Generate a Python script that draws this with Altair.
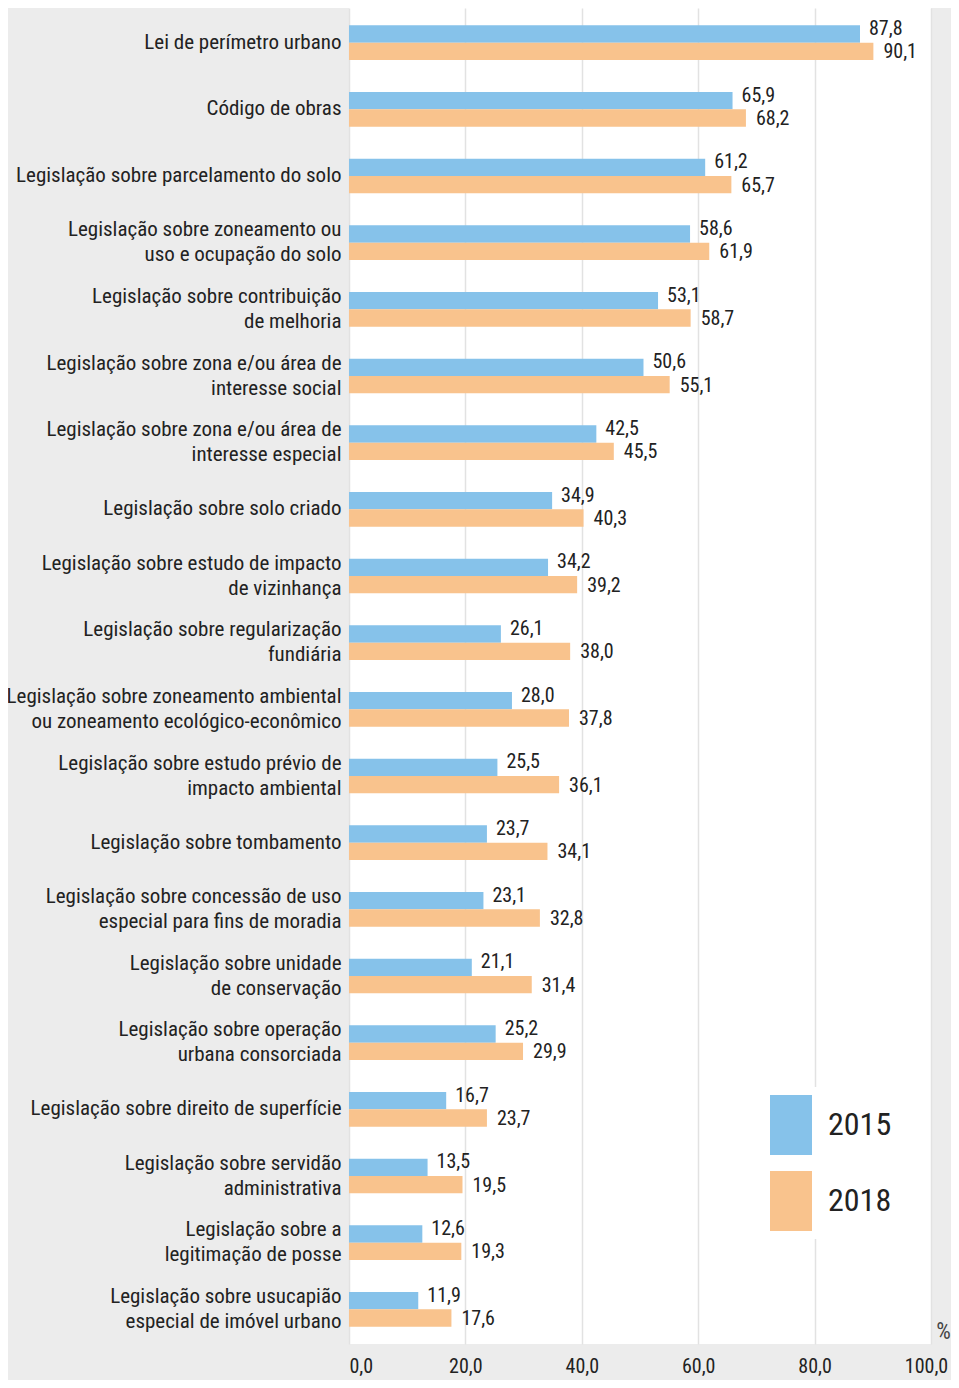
import altair as alt
import pandas as pd

categories = [
    "Lei de perímetro urbano",
    "Código de obras",
    "Legislação sobre parcelamento do solo",
    "Legislação sobre zoneamento ou\nuso e ocupação do solo",
    "Legislação sobre contribuição\nde melhoria",
    "Legislação sobre zona e/ou área de\ninteresse social",
    "Legislação sobre zona e/ou área de\ninteresse especial",
    "Legislação sobre solo criado",
    "Legislação sobre estudo de impacto\nde vizinhança",
    "Legislação sobre regularização\nfundiária",
    "Legislação sobre zoneamento ambiental\nou zoneamento ecológico-econômico",
    "Legislação sobre estudo prévio de\nimpacto ambiental",
    "Legislação sobre tombamento",
    "Legislação sobre concessão de uso\nespecial para fins de moradia",
    "Legislação sobre unidade\nde conservação",
    "Legislação sobre operação\nurbana consorciada",
    "Legislação sobre direito de superfície",
    "Legislação sobre servidão\nadministrativa",
    "Legislação sobre a\nlegitimação de posse",
    "Legislação sobre usucapião\nespecial de imóvel urbano",
]
values_2015 = [87.8, 65.9, 61.2, 58.6, 53.1, 50.6, 42.5, 34.9, 34.2, 26.1,
               28.0, 25.5, 23.7, 23.1, 21.1, 25.2, 16.7, 13.5, 12.6, 11.9]
values_2018 = [90.1, 68.2, 65.7, 61.9, 58.7, 55.1, 45.5, 40.3, 39.2, 38.0,
               37.8, 36.1, 34.1, 32.8, 31.4, 29.9, 23.7, 19.5, 19.3, 17.6]
years = ["2015", "2018"]
colors = ["#86C2EA", "#F9C38D"]
x_ticks = [0, 20, 40, 60, 80, 100]

rows = []
for c, a, b in zip(categories, values_2015, values_2018):
    rows.append({"category": c, "year": years[0], "value": a})
    rows.append({"category": c, "year": years[1], "value": b})
df = pd.DataFrame(rows)

FONT = "Roboto Condensed"
TXT = "#222222"

base = alt.Chart(df).transform_calculate(
    label="replace(format(datum.value, '.1f'), '.', ',')"
)

y_enc = alt.Y(
    "category:N",
    sort=categories,
    scale=alt.Scale(paddingInner=0.48, paddingOuter=0.26),
    axis=alt.Axis(
        title=None,
        labelExpr="split(datum.label, '\\n')",
        labelFont=FONT,
        labelFontSize=21,
        labelLineHeight=25,
        labelColor=TXT,
        labelPadding=8,
        labelLimit=400,
        labelOffset={"condition": {"test": "indexof(datum.value, '\\n') >= 0", "value": -12.5}, "value": 0},
        ticks=False,
        domain=False,
        grid=False,
    ),
)
yoff = alt.YOffset("year:N", sort=years, scale=alt.Scale(paddingInner=0, paddingOuter=0))

x_enc = alt.X(
    "value:Q",
    scale=alt.Scale(domain=[0, 100], nice=False),
    axis=alt.Axis(
        values=x_ticks,
        labelExpr="replace(format(datum.value, '.1f'), '.', ',')",
        labelFont=FONT,
        labelFontSize=20,
        labelColor=TXT,
        labelPadding=12,
        labelAlign={"condition": {"test": "datum.value == 0", "value": "left"}, "value": "center"},
        labelOffset={"condition": {"test": "datum.value == 100", "value": -5}, "value": 0},
        ticks=False,
        domain=False,
        grid=True,
        gridColor="#e2e2e2",
        gridWidth=1.5,
        title="%",
        titleFont=FONT,
        titleFontSize=23,
        titleFontWeight="normal",
        titleColor="#444444",
        titleX=594,
        titleY=-1,
        titleAlign="center",
        titleBaseline="bottom",
        labelFlush=False,
    ),
)

bars = base.mark_bar().encode(
    x=x_enc,
    y=y_enc,
    yOffset=yoff,
    color=alt.Color(
        "year:N",
        sort=years,
        scale=alt.Scale(domain=years, range=colors),
        legend=alt.Legend(
            title=None,
            orient="none",
            legendX=404,
            legendY=1079,
            fillColor="white",
            padding=8,
            symbolType="M-0.7,-1H0.7V1H-0.7Z",
            symbolSize=3600,
            symbolStrokeWidth=0,
            symbolOpacity=1,
            labelFont=FONT,
            labelFontSize=32,
            labelColor=TXT,
            labelOffset=7,
            rowPadding=16,
        ),
    ),
)

text15 = base.transform_filter(alt.datum.year == "2015").mark_text(
    align="left", baseline="middle", dx=9, dy=-5, font=FONT, fontSize=20, color=TXT
).encode(x="value:Q", y=alt.Y("category:N", sort=categories), yOffset=yoff, text="label:N")

text18 = base.transform_filter(alt.datum.year == "2018").mark_text(
    align="left", baseline="middle", dx=10, dy=1, font=FONT, fontSize=20, color=TXT
).encode(x="value:Q", y=alt.Y("category:N", sort=categories), yOffset=yoff, text="label:N")

chart = alt.layer(bars, text15, text18).properties(
    width=582,
    height=1336,
    autosize=alt.AutoSizeParams(type="none"),
    padding={"left": 341, "right": 20, "top": 0, "bottom": 36},
    background="#ececec",
).configure_view(fill="white", stroke=None)

chart.save("out.html", embed_options={"renderer": "svg", "actions": False})
